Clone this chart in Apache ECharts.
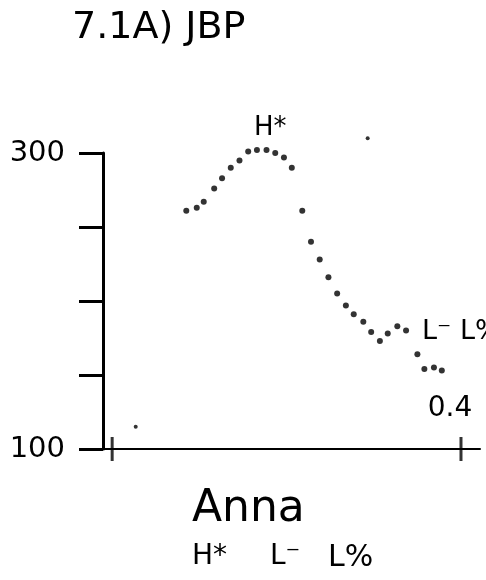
<!DOCTYPE html>
<html>
<head>
<meta charset="utf-8">
<script src="https://cdn.jsdelivr.net/npm/echarts@6/dist/echarts.min.js"></script>
<style>
  html, body { margin: 0; padding: 0; background: #fff; }
  #main { width: 486px; height: 580px; }
</style>
</head>
<body>
<div id="main"></div>
<script>
// pitch track (time in s, F0 in Hz)
var times = [0.085, 0.097, 0.105, 0.117, 0.126, 0.136, 0.146, 0.156, 0.166, 0.177,
             0.187, 0.197, 0.206, 0.218, 0.228, 0.238, 0.248, 0.258, 0.268, 0.277,
             0.288, 0.297, 0.307, 0.316, 0.327, 0.337, 0.350, 0.358, 0.369, 0.378];
var pitch = [261, 263, 267, 276, 283, 290, 295, 301, 302, 302,
             300, 297, 290, 261, 240, 228, 216, 205, 197, 191,
             186, 179, 173, 178, 183, 180, 164, 154, 155, 153];
var strayTimes = [0.293, 0.027];
var strayPitch = [310, 115];
var yTicks = [100, 150, 200, 250, 300];
var yLabels = [100, 300];
var xTicks = [0, 0.4];
var xLabels = [0.4];

var font = 'DejaVu Sans';
var chart = echarts.init(document.getElementById('main'));

var track = times.map(function(t, i) { return [t, pitch[i]]; });
var stray = strayTimes.map(function(t, i) { return [t, strayPitch[i]]; });
var crossTicks = xTicks.map(function(t) { return [t, yTicks[0]]; });

function label(x, y, text, size, spacing) {
    return {
        type: 'text', left: x, top: y,
        style: { text: text, fontFamily: font, fontSize: size, fill: '#000', letterSpacing: spacing || 0 }
    };
}

var option = {
    animation: false,
    backgroundColor: '#fff',
    grid: { left: 103, top: 153, right: 6, bottom: 131 },
    xAxis: {
        type: 'value',
        min: -0.0105,
        max: 0.4218,
        splitLine: { show: false },
        axisLine: { lineStyle: { color: '#000', width: 2 } },
        axisTick: { show: false },
        axisLabel: {
            inside: true,
            margin: 26,
            padding: [0, 22, 0, 0],
            customValues: xLabels,
            color: '#000',
            fontFamily: font,
            fontSize: 28,
            formatter: function(v) { return v.toFixed(1); }
        }
    },
    yAxis: {
        type: 'value',
        min: 100,
        max: 300,
        interval: 50,
        splitLine: { show: false },
        axisLine: { onZero: false, lineStyle: { color: '#000', width: 3 } },
        axisTick: { length: 24, customValues: yTicks, lineStyle: { color: '#000', width: 3 } },
        axisLabel: {
            customValues: yLabels,
            margin: 38,
            color: '#000',
            fontFamily: font,
            fontSize: 29
        }
    },
    series: [{
        name: 'F0',
        type: 'scatter',
        clip: false,
        symbol: 'circle',
        symbolSize: 6,
        itemStyle: { color: '#000' },
        data: track
    }, {
        name: 'noise',
        type: 'scatter',
        clip: false,
        symbol: 'circle',
        symbolSize: 4,
        itemStyle: { color: '#000' },
        data: stray
    }, {
        name: 'ticks',
        type: 'scatter',
        clip: false,
        symbol: 'rect',
        symbolSize: [3, 24],
        itemStyle: { color: '#000' },
        data: crossTicks
    }],
    graphic: [
        label(72, 9, '7.1A) JBP', 38, 4),
        label(254, 115, 'H*', 26),
        label(422, 318, 'L\u207B L%', 27),
        label(192, 488, 'Anna', 44),
        label(192, 543, 'H*', 28),
        label(270, 543, 'L\u207B', 28),
        label(328, 543, 'L%', 30, 5)
    ]
};

chart.setOption(option);
</script>
</body>
</html>
